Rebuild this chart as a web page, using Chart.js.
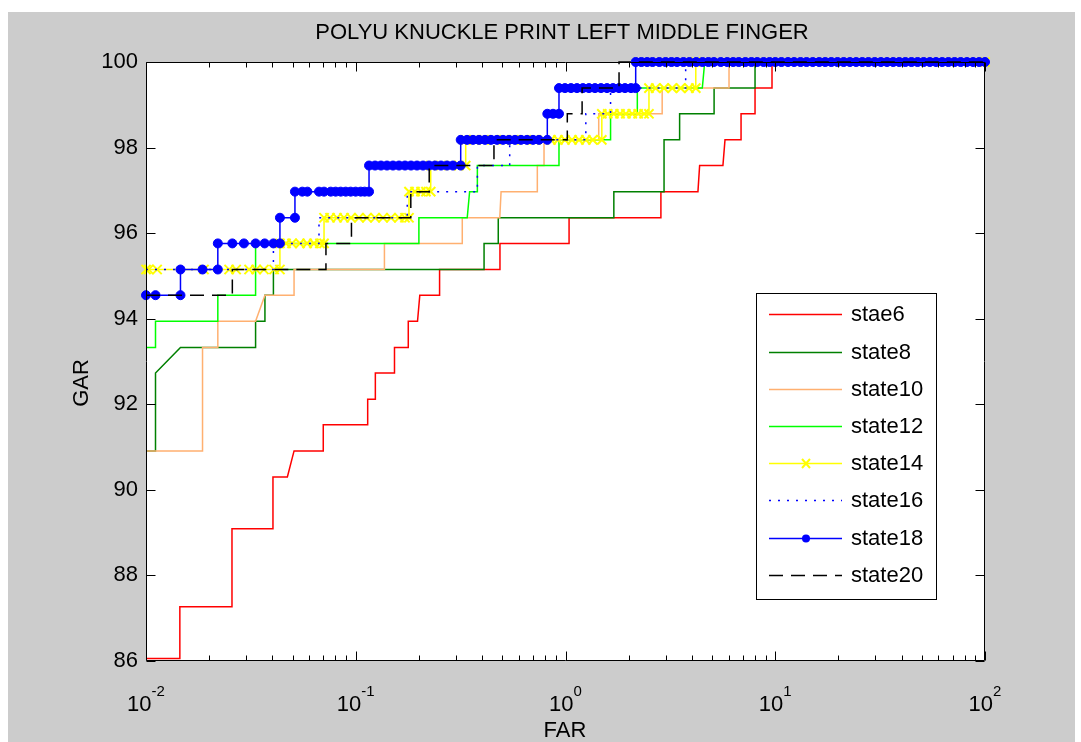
<!DOCTYPE html>
<html><head><meta charset="utf-8">
<script src="https://cdn.jsdelivr.net/npm/chart.js@4.4.1/dist/chart.umd.min.js"></script>
<style>html,body{margin:0;padding:0;background:#fff;}canvas{display:block;}</style>
</head><body>
<canvas id="c" width="1081" height="742"></canvas>
<script>
// ---- text ----
const chartTitle = 'POLYU KNUCKLE PRINT LEFT MIDDLE FINGER';
const xTitle = 'FAR';
const yTitle = 'GAR';
const seriesNames = ['stae6','state8','state10','state12','state14','state16','state18','state20'];
const xTickValues = [0.01, 0.1, 1, 10, 100];
const xTickBase = '10';
const xTickExps = ['-2','-1','0','1','2'];
const yTickValues = [86, 88, 90, 92, 94, 96, 98, 100];
const yTickLabels = ['86','88','90','92','94','96','98','100'];

// ---- data: runs of [GAR, [FAR values at that GAR]] ----
const stae6 = [
  [86.06, [0.01, 0.0145]], [87.27, [0.0145, 0.0257]], [89.09, [0.0257, 0.0403]],
  [90.30, [0.0403, 0.0472]], [90.91, [0.0508, 0.0700]], [91.52, [0.0700, 0.114]],
  [92.12, [0.114, 0.124]], [92.73, [0.124, 0.153]], [93.33, [0.153, 0.178]],
  [93.94, [0.178, 0.197]], [94.55, [0.202, 0.251]], [95.15, [0.251, 0.487]],
  [95.76, [0.487, 1.04]], [96.36, [1.04, 2.85]], [96.97, [2.85, 4.28]],
  [97.58, [4.36, 5.63]], [98.18, [5.76, 6.87]], [98.79, [6.87, 8.01]],
  [99.39, [8.01, 9.65]], [100, [9.65, 100]]
];
const state8 = [
  [90.91, [0.01, 0.0111]], [92.73, [0.0111]], [93.06, [0.0129]], [93.33, [0.0146, 0.0333]],
  [93.94, [0.0333, 0.0369]], [94.55, [0.0369, 0.0405]], [95.15, [0.0405, 0.409]],
  [95.76, [0.409, 0.478]], [96.36, [0.478, 1.70]], [96.97, [1.70, 2.95]],
  [98.18, [2.95, 3.50]], [98.79, [3.50, 5.11]], [99.39, [5.11, 8.01]], [100, [8.01, 100]]
];
const state10 = [
  [90.91, [0.01, 0.0186]], [93.33, [0.0186, 0.0220]], [93.94, [0.0220, 0.0333]],
  [94.55, [0.0369, 0.0508]], [95.15, [0.0508, 0.137]], [95.76, [0.137, 0.322]],
  [96.36, [0.322, 0.486]], [96.97, [0.493, 0.734]], [97.58, [0.734, 0.790]],
  [98.18, [0.790, 1.44]], [98.79, [1.44, 2.89]], [99.39, [2.89, 6.02]], [100, [6.02, 100]]
];
const state12 = [
  [93.33, [0.01, 0.0111]], [93.94, [0.0111, 0.0220]], [94.55, [0.0220, 0.0333]],
  [95.76, [0.0333, 0.200]], [96.36, [0.200, 0.340]], [96.97, [0.349, 0.380]],
  [97.58, [0.380, 0.931]], [98.18, [0.931, 1.64]], [98.79, [1.64, 2.20]],
  [99.39, [2.20, 4.49]], [100, [4.61, 100]]
];
const state14 = [
  [95.15, [0.01, 0.0103, 0.0113, 0.0189, 0.0249, 0.0269, 0.0310, 0.0335, 0.0365, 0.0408, 0.0435]],
  [95.76, [0.0435, 0.0465, 0.0497, 0.0542, 0.0586, 0.0632, 0.0675, 0.0706]],
  [96.36, [0.0706, 0.0754, 0.0814, 0.0879, 0.0949, 0.1036, 0.1131, 0.1236, 0.1349, 0.1472, 0.1608, 0.1717, 0.1794]],
  [96.97, [0.1794, 0.1916, 0.2047, 0.2162, 0.2277]],
  [97.58, [0.2277, 0.2549, 0.2845, 0.3107, 0.3344]],
  [98.18, [0.3344, 0.3663, 0.409, 0.456, 0.509, 0.568, 0.634, 0.708, 0.790, 0.853, 0.921, 0.994, 1.074, 1.16, 1.25, 1.35, 1.49]],
  [98.79, [1.49, 1.59, 1.70, 1.82, 1.94, 2.08, 2.22, 2.37, 2.50]],
  [99.39, [2.50, 2.69, 2.95, 3.23, 3.54, 3.88, 4.18]],
  [100, [4.18, 100]]
];
const state16 = [
  [95.15, [0.01, 0.0405]], [95.76, [0.0405, 0.0668]], [96.36, [0.0668, 0.176]],
  [96.97, [0.176, 0.380]], [97.58, [0.380, 0.542]], [98.18, [0.542, 1.25]],
  [98.79, [1.25, 1.64]], [99.39, [1.64, 3.74]], [100, [3.74, 100]]
];
const state18 = [
  [94.55, [0.01, 0.0111, 0.0146]],
  [95.15, [0.0146, 0.0186, 0.0220]],
  [95.76, [0.0220, 0.0258, 0.0293, 0.0333, 0.0368, 0.0405, 0.0435]],
  [96.36, [0.0435, 0.0513]],
  [96.97, [0.0513, 0.0556, 0.0588, 0.0668, 0.0706, 0.0760, 0.0802, 0.0848, 0.0896, 0.0946, 0.0999, 0.1056, 0.1103, 0.1157]],
  [97.58, [0.1157, 0.1236, 0.1319, 0.1409, 0.1505, 0.1608, 0.1717, 0.1834, 0.1959, 0.2093, 0.2235, 0.2387, 0.2549, 0.2723, 0.2908, 0.3165]],
  [98.18, [0.3165, 0.3392, 0.3622, 0.3869, 0.4132, 0.4414, 0.4714, 0.5035, 0.5378, 0.5744, 0.6135, 0.6553, 0.700, 0.7475, 0.819]],
  [98.79, [0.819, 0.872, 0.931]],
  [99.39, [0.931, 0.994, 1.062, 1.134, 1.211, 1.294, 1.382, 1.476, 1.577, 1.684, 1.80, 1.921, 2.053, 2.161]],
  [100, [2.161, 2.3, 2.45, 2.6, 2.8, 3.0, 3.2, 3.4, 3.65, 3.9, 4.2, 4.5, 4.8, 5.1, 5.5, 5.9, 6.3, 6.7, 7.2, 7.7, 8.2, 8.8, 9.4, 10, 10.7, 11.5, 12.3, 13.2, 14.1, 15.1, 16.2, 17.3, 18.5, 19.8, 21.2, 22.7, 24.3, 26, 27.8, 29.8, 31.9, 34.1, 36.5, 39, 41.7, 44.6, 47.7, 51, 54.6, 58.4, 62.5, 66.9, 71.6, 76.6, 82, 87.7, 93.8, 100]]
];
const state20 = [
  [94.55, [0.01, 0.0258]], [95.15, [0.0258, 0.0721]], [95.76, [0.0721, 0.0954]],
  [96.36, [0.0954, 0.183]], [96.97, [0.183, 0.224]], [97.58, [0.224, 0.456]],
  [98.18, [0.456, 1.02]], [98.79, [1.02, 1.20]], [99.39, [1.20, 1.80]], [100, [1.80, 100]]
];

// ---- styles ----
const seriesData = [stae6, state8, state10, state12, state14, state16, state18, state20];
const seriesStyle = [
  {color: '#ff0000', dash: [], marker: null},
  {color: '#008000', dash: [], marker: null},
  {color: '#ffb070', dash: [], marker: null},
  {color: '#00ff00', dash: [], marker: null},
  {color: '#ffff00', dash: [], marker: 'crossRot'},
  {color: '#0000ff', dash: [2, 7], marker: null},
  {color: '#0000ff', dash: [], marker: 'circle'},
  {color: '#000000', dash: [14, 8], marker: null}
];
const FONT = '"Liberation Sans", Arial, sans-serif';

function toPoints(runs) {
  const pts = [];
  runs.forEach(([g, fars]) => fars.forEach(f => pts.push({x: f, y: g})));
  return pts;
}

const datasets = seriesData.map((runs, i) => {
  const s = seriesStyle[i];
  return {
    label: seriesNames[i],
    data: toPoints(runs),
    borderColor: s.color,
    backgroundColor: s.color,
    borderWidth: 1.5,
    borderDash: s.dash,
    pointStyle: s.marker || 'circle',
    pointRadius: s.marker === 'circle' ? 4.5 : (s.marker ? 6.5 : 0),
    pointBorderWidth: s.marker === 'circle' ? 1 : (s.marker ? 2 : 0),
    pointBackgroundColor: s.color,
    pointBorderColor: s.color,
    tension: 0,
    clip: 10,
    order: -i
  };
});

function line(ctx, x1, y1, x2, y2) { ctx.beginPath(); ctx.moveTo(x1, y1); ctx.lineTo(x2, y2); ctx.stroke(); }

const frame = {
  id: 'frame',
  beforeDraw(chart) {
    const {ctx, chartArea: a, width, height} = chart;
    ctx.save();
    ctx.fillStyle = '#ffffff'; ctx.fillRect(0, 0, width, height);
    ctx.fillStyle = '#cccccc'; ctx.fillRect(8, 12, width - 14, height - 12);
    ctx.fillStyle = '#ffffff'; ctx.fillRect(a.left, a.top, a.right - a.left, a.bottom - a.top);
    ctx.restore();
  },
  afterDatasetsDraw(chart) {
    const {ctx, chartArea: a, scales: {x, y}} = chart;
    ctx.save();
    ctx.strokeStyle = '#000'; ctx.lineWidth = 1; ctx.setLineDash([]);
    const L = Math.round(a.left) + 0.5, R = Math.round(a.right) - 0.5;
    const T = Math.round(a.top) + 0.5, B = Math.round(a.bottom) - 0.5;
    line(ctx, L, T, R, T); line(ctx, L, B, R, B); line(ctx, L, T, L, B); line(ctx, R, T, R, B);
    // x ticks
    xTickValues.forEach(v => {
      const px = Math.round(x.getPixelForValue(v)) + 0.5;
      line(ctx, px, B, px, B - 9); line(ctx, px, T, px, T + 9);
    });
    for (let e = -2; e < 2; e++) for (let m = 2; m <= 9; m++) {
      const px = Math.round(x.getPixelForValue(m * Math.pow(10, e))) + 0.5;
      line(ctx, px, B, px, B - 5); line(ctx, px, T, px, T + 5);
    }
    // y ticks
    yTickValues.forEach(v => {
      const py = Math.round(y.getPixelForValue(v)) + 0.5;
      line(ctx, L, py, L + 9, py); line(ctx, R, py, R - 9, py);
    });
    // text
    ctx.fillStyle = '#000';
    ctx.font = '22px ' + FONT;
    ctx.textAlign = 'center'; ctx.textBaseline = 'middle';
    ctx.fillText(chartTitle, 562, 33);
    ctx.textAlign = 'right';
    yTickValues.forEach((v, i) => ctx.fillText(yTickLabels[i], 138, y.getPixelForValue(v)));
    xTickValues.forEach((v, i) => {
      const px = x.getPixelForValue(v);
      ctx.font = '22px ' + FONT;
      const wb = ctx.measureText(xTickBase).width;
      ctx.font = '15px ' + FONT;
      const we = ctx.measureText(xTickExps[i]).width;
      const x0 = px - (wb + we) / 2;
      ctx.textAlign = 'left'; ctx.textBaseline = 'alphabetic';
      ctx.font = '22px ' + FONT;
      ctx.fillText(xTickBase, x0, 711);
      ctx.font = '15px ' + FONT;
      ctx.fillText(xTickExps[i], x0 + wb, 696);
    });
    ctx.font = '22px ' + FONT;
    ctx.textAlign = 'center'; ctx.textBaseline = 'middle';
    ctx.fillText(xTitle, 565, 731);
    ctx.save(); ctx.translate(82, 383); ctx.rotate(-Math.PI / 2); ctx.fillText(yTitle, 0, 0); ctx.restore();
    // legend
    const lx = 756, ly = 293, lw = 180, lh = 306;
    ctx.fillStyle = '#fff'; ctx.fillRect(lx, ly, lw, lh);
    ctx.strokeStyle = '#000'; ctx.lineWidth = 1;
    ctx.strokeRect(lx + 0.5, ly + 0.5, lw, lh);
    seriesNames.forEach((name, i) => {
      const s = seriesStyle[i];
      const cy = Math.round(314.3 + i * 37.2) + 0.5;
      ctx.strokeStyle = s.color; ctx.lineWidth = 1.5; ctx.setLineDash(s.dash);
      line(ctx, 769, cy, 842, cy);
      ctx.setLineDash([]);
      if (s.marker === 'crossRot') {
        ctx.lineWidth = 2;
        line(ctx, 802, cy - 4.5, 810, cy + 4.5); line(ctx, 802, cy + 4.5, 810, cy - 4.5);
      } else if (s.marker === 'circle') {
        ctx.fillStyle = s.color; ctx.beginPath(); ctx.arc(806, cy, 4, 0, Math.PI * 2); ctx.fill();
      }
      ctx.fillStyle = '#000'; ctx.textAlign = 'left'; ctx.textBaseline = 'middle';
      ctx.font = '22px ' + FONT;
      ctx.fillText(name, 851, cy);
    });
    ctx.restore();
  }
};

new Chart(document.getElementById('c'), {
  type: 'line',
  data: {datasets},
  options: {
    responsive: false, animation: false, devicePixelRatio: 1, events: [],
    layout: {padding: {top: 62, right: 96, bottom: 0, left: 0}},
    plugins: {legend: {display: false}, title: {display: false}, tooltip: {enabled: false}},
    scales: {
      x: {
        type: 'logarithmic', min: 0.01, max: 100, position: 'bottom',
        grid: {display: false}, border: {display: false}, ticks: {display: false},
        afterFit: s => { s.height = 81; }
      },
      y: {
        type: 'linear', min: 86, max: 100, position: 'left',
        grid: {display: false}, border: {display: false}, ticks: {display: false},
        afterFit: s => { s.width = 146; }
      }
    }
  },
  plugins: [frame]
});
</script>
</body></html>
